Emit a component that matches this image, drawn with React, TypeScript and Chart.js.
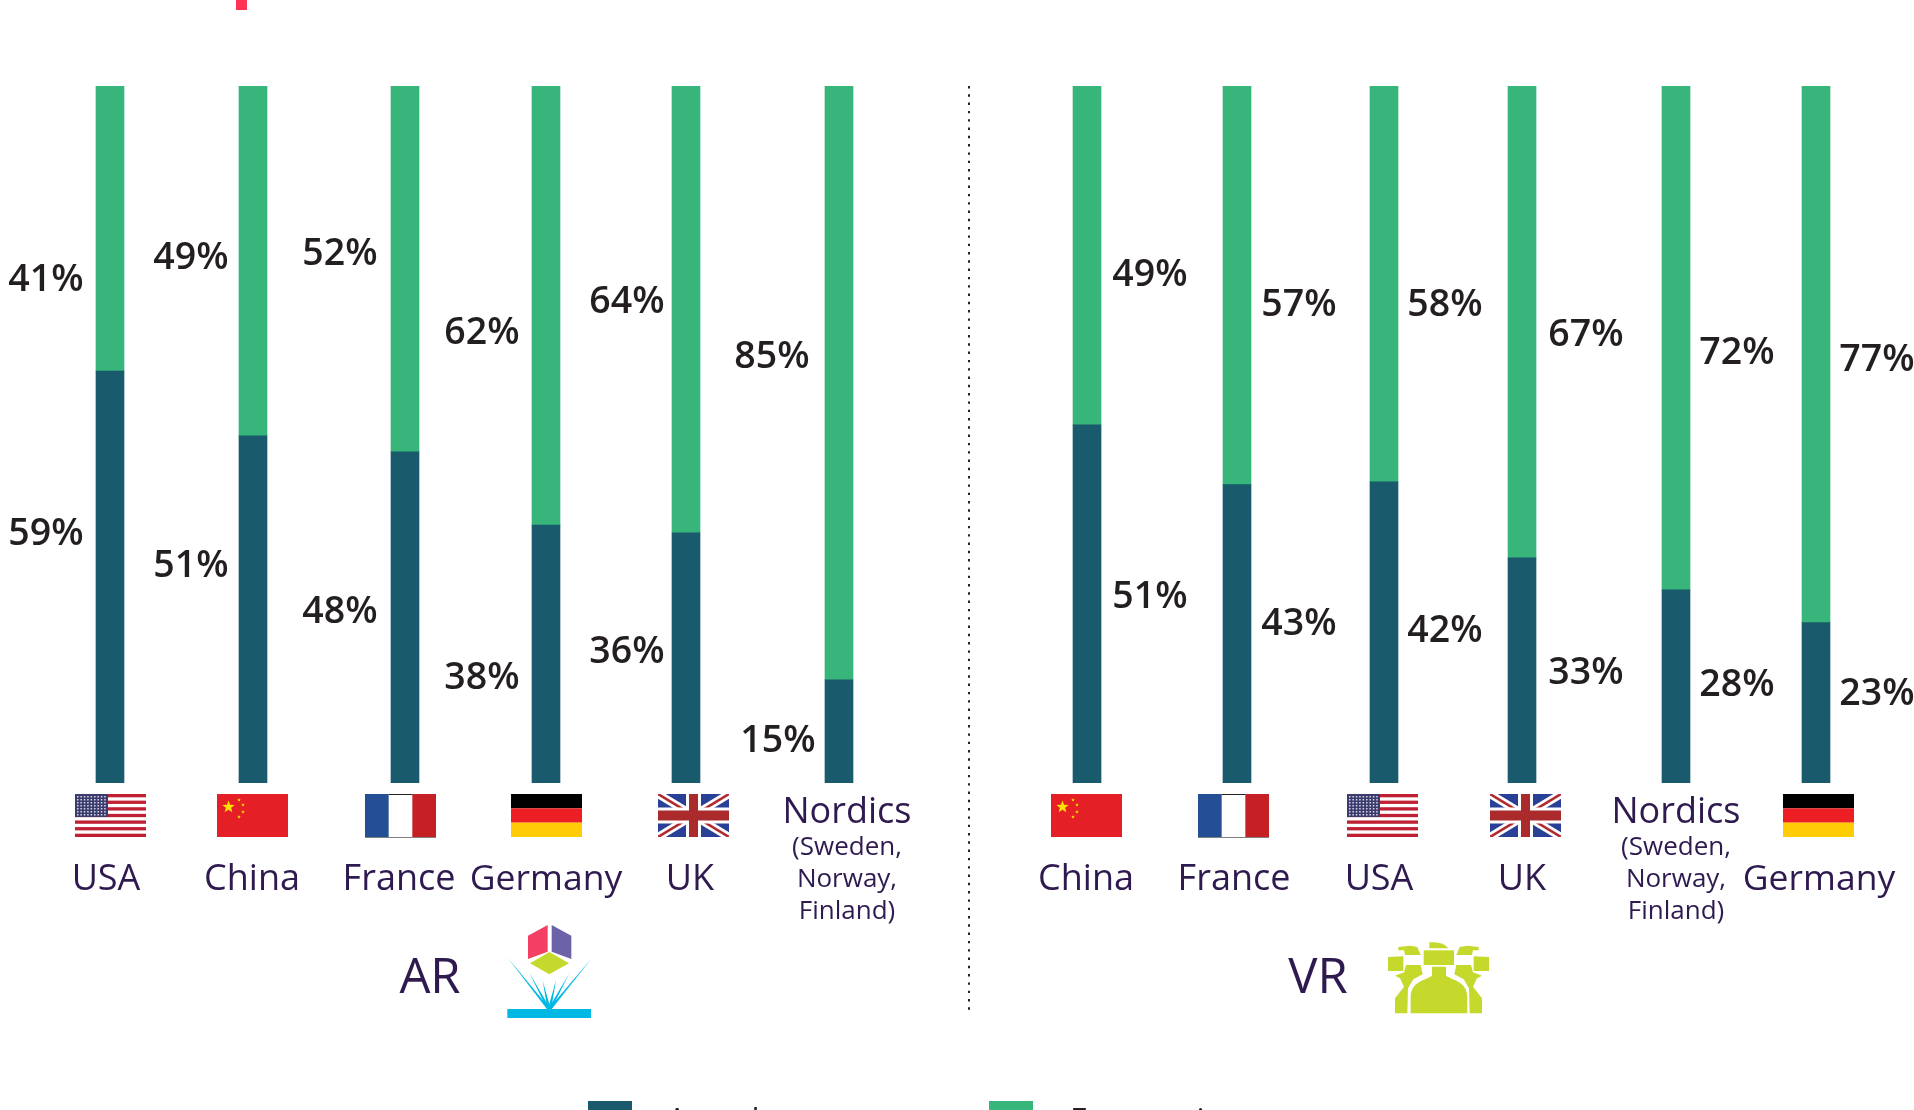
import React, { useEffect, useRef } from "react";
import { Chart, registerables } from "chart.js";

Chart.register(...registerables);

// ---------- data ----------
const arCategories = ["USA", "China", "France", "Germany", "UK", "Nordics"];
const vrCategories = ["China", "France", "USA", "UK", "Nordics", "Germany"];
// segment heights
const arDarkValues = [59.1, 49.8, 47.5, 37.0, 35.9, 14.8];
const arGreenValues = [40.9, 50.2, 52.5, 63.0, 64.1, 85.2];
const vrDarkValues = [51.4, 42.8, 43.2, 32.3, 27.7, 23.0];
const vrGreenValues = [48.6, 57.2, 56.8, 67.7, 72.3, 77.0];
// printed labels
const arDarkLabels = ["59%", "51%", "48%", "38%", "36%", "15%"];
const arGreenLabels = ["41%", "49%", "52%", "62%", "64%", "85%"];
const vrDarkLabels = ["51%", "43%", "42%", "33%", "28%", "23%"];
const vrGreenLabels = ["49%", "57%", "58%", "67%", "72%", "77%"];
const seriesNames = ["Actual", "Forecasting"];
const nordicsNote = ["(Sweden,", "Norway,", "Finland)"];

// ---------- layout ----------
const W = 1914;
const H = 1110;
const barSlots = [0.7586, 1.7448, 2.7931, 3.7655, 4.731, 5.7862, 7.4966, 8.531, 9.5448, 10.4966, 11.5586, 12.5241];
const slotMax = 13.2;
const DARK = "#195b6d";
const GREEN = "#37b57a";
const INK = "#231f20";
const PURPLE = "#2f1a50";
const pctFont = "600 37.5px 'Open Sans'";

const labelX = [46, 191, 340, 482, 627, 772, 1150, 1299, 1445, 1586, 1737, 1877];
const greenLabelY = [280, 258, 254, 333, 302, 357, 275, 305, 305, 335, 353, 360];
const darkLabelX = [46, 191, 340, 482, 627, 778, 1150, 1299, 1445, 1586, 1737, 1877];
const darkLabelY = [534, 566, 612, 678, 652, 741, 597, 624, 631, 673, 685, 694];

const arNameX = [106, 252, 399, 546, 690, 847];
const vrNameX = [1086, 1234, 1379, 1522, 1676, 1819];
const arFlagX = [75, 217, 365, 511, 658];
const vrFlagX = [1051, 1198, 1347, 1490, 1783];
const arFlags = ["USA", "China", "France", "Germany", "UK"];
const vrFlags = ["China", "France", "USA", "UK", "Germany"];
const FLAG_Y = 794;
const FLAG_W = 71;
const FLAG_H = 43;

function drawFlag(c: CanvasRenderingContext2D, name: string, x: number, y: number) {
  const w = FLAG_W;
  const h = FLAG_H;
  c.save();
  c.beginPath();
  c.rect(x, y, w, h);
  c.clip();
  if (name === "USA") {
    c.fillStyle = "#ffffff";
    c.fillRect(x, y, w, h);
    c.fillStyle = "#bf2033";
    for (let i = 0; i < 13; i += 2) c.fillRect(x, y + (i * h) / 13, w, h / 13);
    c.fillStyle = "#3c3b6e";
    c.fillRect(x, y, 33, 23);
    c.fillStyle = "#d8d8e8";
    for (let r = 0; r < 7; r++) for (let k = 0; k < 9; k++) c.fillRect(x + 2 + k * 3.4, y + 2 + r * 3, 1.5, 1.5);
  } else if (name === "China") {
    c.fillStyle = "#e51f26";
    c.fillRect(x, y, w, h);
    c.fillStyle = "#fde100";
    star(c, x + 11.5, y + 13, 6.5);
    star(c, x + 22, y + 6, 1.9);
    star(c, x + 26, y + 11, 1.9);
    star(c, x + 26, y + 18, 1.9);
    star(c, x + 22, y + 23, 1.9);
  } else if (name === "France") {
    c.fillStyle = "#ffffff";
    c.fillRect(x, y, w, h);
    c.fillStyle = "#254f95";
    c.fillRect(x, y, w / 3, h);
    c.fillStyle = "#c62027";
    c.fillRect(x + (2 * w) / 3, y, w / 3, h);
    c.fillStyle = "#222222";
    c.fillRect(x + w / 3, y, w / 3, 1);
  } else if (name === "Germany") {
    c.fillStyle = "#000000";
    c.fillRect(x, y, w, h / 3);
    c.fillStyle = "#ed1f24";
    c.fillRect(x, y + h / 3, w, h / 3);
    c.fillStyle = "#ffcc05";
    c.fillRect(x, y + (2 * h) / 3, w, h / 3);
  } else {
    c.fillStyle = "#2a3f96";
    c.fillRect(x, y, w, h);
    const diag = (a: number, b: number, d: number, e: number, col: string, lw: number) => {
      c.strokeStyle = col;
      c.lineWidth = lw;
      c.beginPath();
      c.moveTo(a, b);
      c.lineTo(d, e);
      c.stroke();
    };
    diag(x, y, x + w, y + h, "#ffffff", 8);
    diag(x + w, y, x, y + h, "#ffffff", 8);
    diag(x, y, x + w, y + h, "#b02a30", 2.6);
    diag(x + w, y, x, y + h, "#b02a30", 2.6);
    c.fillStyle = "#ffffff";
    c.fillRect(x + w / 2 - 7.5, y, 15, h);
    c.fillRect(x, y + h / 2 - 8, w, 16);
    c.fillStyle = "#ab2a2c";
    c.fillRect(x + w / 2 - 4.5, y, 9, h);
    c.fillRect(x, y + h / 2 - 5, w, 10);
  }
  c.restore();
  if (name === "France") {
    c.fillStyle = "#808080";
    c.fillRect(x, y + h, w, 1);
  }
}

function star(c: CanvasRenderingContext2D, cx: number, cy: number, r: number) {
  c.beginPath();
  for (let i = 0; i < 10; i++) {
    const a = -Math.PI / 2 + (i * Math.PI) / 5;
    const rr = i % 2 ? r * 0.42 : r;
    const px = cx + rr * Math.cos(a);
    const py = cy + rr * Math.sin(a);
    if (i === 0) c.moveTo(px, py);
    else c.lineTo(px, py);
  }
  c.closePath();
  c.fill();
}

function poly(c: CanvasRenderingContext2D, pts: number[][], col: string) {
  c.fillStyle = col;
  c.beginPath();
  pts.forEach((p, i) => (i ? c.lineTo(p[0], p[1]) : c.moveTo(p[0], p[1])));
  c.closePath();
  c.fill();
}

function drawArIcon(c: CanvasRenderingContext2D) {
  c.save();
  c.translate(500, 920);
  c.scale(1 / 3, 1 / 3);
  poly(c, [[84, 47], [143, 15], [143, 95], [84, 117]], "#f23f63");
  poly(c, [[155, 15], [214, 47], [214, 117], [155, 95]], "#6c62a8");
  poly(c, [[90, 130], [148, 96], [207, 130], [148, 163]], "#c5d92d");
  const blue = "#00b8e3";
  const rays = [[22, 112], [88, 158], [128, 182], [168, 180], [208, 160], [275, 115]];
  rays.forEach((r) => poly(c, [[r[0], r[1]], [143, 270], [153, 270]], blue));
  c.fillStyle = blue;
  c.fillRect(22, 267, 251, 27);
  c.restore();
}

function drawVrPerson(c: CanvasRenderingContext2D, col: string) {
  poly(c, [[24, 66], [70, 64], [70, 108], [24, 108]], col);
  poly(c, [[55, 36], [90, 32], [112, 36], [122, 60], [75, 60], [72, 46], [55, 46]], col);
  poly(c, [[78, 90], [122, 90], [128, 118], [100, 133], [84, 160], [82, 235], [45, 235], [45, 190], [72, 155], [60, 130], [45, 122], [72, 112]], col);
}

function drawVrIcon(c: CanvasRenderingContext2D) {
  const col = "#c5d92d";
  c.save();
  c.translate(1380, 935);
  c.scale(1 / 3, 1 / 3);
  drawVrPerson(c, col);
  c.save();
  c.translate(351, 0);
  c.scale(-1, 1);
  drawVrPerson(c, col);
  c.restore();
  poly(c, [[131, 46], [222, 46], [222, 90], [131, 90]], col);
  c.fillStyle = col;
  c.beginPath();
  c.moveTo(148, 22);
  c.quadraticCurveTo(190, 18, 205, 40);
  c.lineTo(148, 40);
  c.closePath();
  c.fill();
  c.beginPath();
  c.moveTo(156, 95);
  c.lineTo(156, 122);
  c.bezierCurveTo(130, 138, 94, 140, 92, 185);
  c.lineTo(92, 235);
  c.lineTo(262, 235);
  c.lineTo(262, 185);
  c.bezierCurveTo(260, 140, 224, 138, 198, 122);
  c.lineTo(198, 95);
  c.closePath();
  c.fill();
  c.restore();
}

const overlay = {
  id: "overlay",
  afterDraw(chart: any) {
    const c: CanvasRenderingContext2D = chart.ctx;
    c.save();
    // cropped mark at the top edge
    c.fillStyle = "#ff3355";
    c.fillRect(236, 0, 11, 10);

    // percentage labels
    c.font = pctFont;
    c.fillStyle = INK;
    c.textAlign = "center";
    c.textBaseline = "middle";
    const greens = [...arGreenLabels, ...vrGreenLabels];
    const darks = [...arDarkLabels, ...vrDarkLabels];
    greens.forEach((t, i) => c.fillText(t, labelX[i], greenLabelY[i]));
    darks.forEach((t, i) => c.fillText(t, darkLabelX[i], darkLabelY[i]));

    // flags
    arFlags.forEach((f, i) => drawFlag(c, f, arFlagX[i], FLAG_Y));
    vrFlags.forEach((f, i) => drawFlag(c, f, vrFlagX[i], FLAG_Y));

    // country names
    c.fillStyle = PURPLE;
    c.textBaseline = "alphabetic";
    const names = (cats: string[], xs: number[]) =>
      cats.forEach((n, i) => {
        c.font = n === "Germany" ? "35.5px 'Open Sans'" : "36px 'Open Sans'";
        if (n === "Nordics") {
          c.fillText(n, xs[i], 823);
          c.font = "26px 'Open Sans'";
          nordicsNote.forEach((t, k) => c.fillText(t, xs[i], 855 + k * 32));
        } else {
          c.fillText(n, xs[i], 890);
        }
      });
    names(arCategories, arNameX);
    names(vrCategories, vrNameX);

    // group titles
    c.font = "49px 'Open Sans'";
    c.fillText("AR", 430, 993);
    c.fillText("VR", 1318, 993);
    drawArIcon(c);
    drawVrIcon(c);

    // divider
    c.strokeStyle = "#1f1f35";
    c.lineWidth = 2;
    c.setLineDash([2.4, 5.9]);
    c.beginPath();
    c.moveTo(969, 86);
    c.lineTo(969, 1015);
    c.stroke();
    c.setLineDash([]);

    // legend, cut by the bottom edge of the picture
    c.fillStyle = DARK;
    c.fillRect(588, 1101, 44, 9);
    c.fillStyle = GREEN;
    c.fillRect(989, 1101, 44, 9);
    c.fillStyle = INK;
    c.font = "32px 'Open Sans'";
    c.textAlign = "left";
    c.fillText(seriesNames[0], 667, 1132);
    c.fillText(seriesNames[1], 1070, 1132);
    c.restore();
  },
};

export default function App() {
  const ref = useRef<HTMLCanvasElement | null>(null);
  useEffect(() => {
    document.body.style.margin = "0";
    const darkValues = [...arDarkValues, ...vrDarkValues];
    const greenValues = [...arGreenValues, ...vrGreenValues];
    const chart = new Chart(ref.current as HTMLCanvasElement, {
      type: "bar",
      data: {
        datasets: [
          {
            label: seriesNames[0],
            data: darkValues.map((y, i) => ({ x: barSlots[i], y })),
            backgroundColor: DARK,
            barThickness: 28,
          },
          {
            label: seriesNames[1],
            data: greenValues.map((y, i) => ({ x: barSlots[i], y })),
            backgroundColor: GREEN,
            barThickness: 28,
          },
        ],
      },
      options: {
        animation: false,
        responsive: false,
        maintainAspectRatio: false,
        layout: { padding: { top: 86, bottom: 327, left: 0, right: 0 } },
        scales: {
          x: { type: "linear", stacked: true, min: 0, max: slotMax, display: false, offset: false },
          y: { stacked: true, min: 0, max: 100, display: false },
        },
        plugins: { legend: { display: false }, tooltip: { enabled: false }, title: { display: false } },
      },
      plugins: [overlay],
    } as any);
    return () => chart.destroy();
  }, []);
  return (
    <div style={{ width: W, height: H, overflow: "hidden", background: "#ffffff" }}>
      <canvas ref={ref} width={W} height={H} style={{ display: "block" }} />
    </div>
  );
}
